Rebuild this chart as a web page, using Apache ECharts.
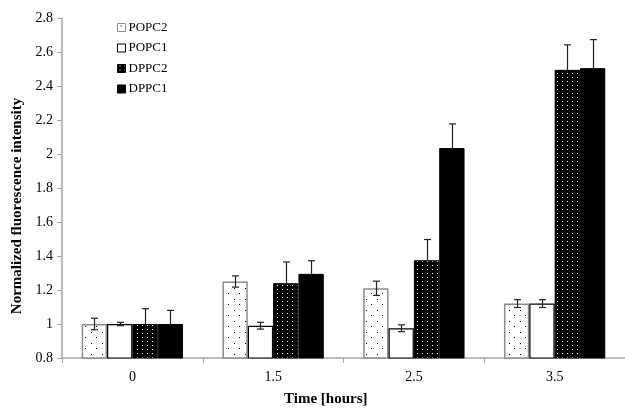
<!DOCTYPE html>
<html>
<head>
<meta charset="utf-8">
<script src="https://cdn.jsdelivr.net/npm/echarts@6/dist/echarts.min.js"></script>
<style>html,body{margin:0;padding:0;background:#fff}#c{width:625px;height:409px}</style>
</head>
<body>
<div id="c"></div>
<script>
const categories = ['0', '1.5', '2.5', '3.5'];
const seriesNames = ['POPC2', 'POPC1', 'DPPC2', 'DPPC1'];
const popc2 = [1.00, 1.25, 1.21, 1.12];
const popc2Err = [0.034, 0.033, 0.042, 0.023];
const popc1 = [1.00, 0.99, 0.975, 1.12];
const popc1Err = [0.01, 0.02, 0.02, 0.023];
const dppc2 = [1.00, 1.24, 1.375, 2.495];
const dppc2Err = [0.09, 0.125, 0.122, 0.147];
const dppc1 = [1.00, 1.295, 2.035, 2.505];
const dppc1Err = [0.08, 0.077, 0.142, 0.168];
const yTicks = { min: 0.8, max: 2.8, step: 0.2 };

function makePattern(bg, fg, w, h, dots) {
  const c = document.createElement('canvas');
  c.width = w; c.height = h;
  const g = c.getContext('2d');
  g.fillStyle = bg; g.fillRect(0, 0, w, h);
  g.fillStyle = fg;
  dots.forEach(d => g.fillRect(d[0], d[1], 1, 1));
  return { image: c, repeat: 'repeat' };
}
const patPOPC2 = makePattern('#ffffff', '#000000', 11, 11, [[3, 2], [8, 7]]);
const patDPPC2 = makePattern('#000000', '#ffffff', 5, 4, [[2, 1]]);

const valuesList = [popc2, popc1, dppc2, dppc1];
const errList = [popc2Err, popc1Err, dppc2Err, dppc1Err];
const styles = [
  { color: patPOPC2, borderColor: '#8c8c8c', borderWidth: 1.5 },
  { color: '#ffffff', borderColor: '#000000', borderWidth: 1.2 },
  { color: patDPPC2, borderColor: '#000000', borderWidth: 1 },
  { color: '#000000', borderColor: '#000000', borderWidth: 1 }
];
const catGap = 0.28;
const nBars = 4;

const series = [];
seriesNames.forEach((name, i) => {
  series.push({
    name: name, type: 'bar', data: valuesList[i],
    barGap: '0%', barCategoryGap: (catGap * 100) + '%',
    itemStyle: styles[i], z: 2
  });
});
seriesNames.forEach((name, i) => {
  const upperOnly = i >= 2;
  series.push({
    type: 'custom', name: name + '_err', z: 5, silent: true,
    data: valuesList[i].map((v, k) => [k, v, errList[i][k]]),
    encode: { x: 0, y: 1 },
    renderItem: function (params, api) {
      const k = api.value(0), v = api.value(1), e = api.value(2);
      const band = api.size([1, 0])[0];
      const bw = band * (1 - catGap) / nBars;
      const c = api.coord([k, v]);
      const x = Math.round(c[0] + (i - (nBars - 1) / 2) * bw) + 0.5;
      const yt = api.coord([k, v + e])[1];
      const yb = upperOnly ? c[1] : api.coord([k, v - e])[1];
      const cap = 3.5;
      const st = { stroke: '#222', lineWidth: 1.2 };
      const ch = [
        { type: 'line', shape: { x1: x, y1: yt, x2: x, y2: yb }, style: st },
        { type: 'line', shape: { x1: x - cap, y1: yt, x2: x + cap, y2: yt }, style: st }
      ];
      if (!upperOnly) ch.push({ type: 'line', shape: { x1: x - cap, y1: yb, x2: x + cap, y2: yb }, style: st });
      return { type: 'group', children: ch };
    }
  });
});

const chart = echarts.init(document.getElementById('c'), null, { renderer: 'canvas' });
chart.setOption({
  animation: false,
  backgroundColor: '#ffffff',
  textStyle: { fontFamily: 'Liberation Serif' },
  grid: { left: 62, top: 18, width: 565, height: 340, containLabel: false },
  legend: {
    data: seriesNames, orient: 'vertical', left: 112, top: 16,
    icon: 'rect', itemWidth: 8, itemHeight: 8, itemGap: 7.5,
    itemStyle: { borderWidth: 1 },
    textStyle: { fontFamily: 'Liberation Serif', fontSize: 13, color: '#000', padding: [0, 0, 0, -2] }
  },
  xAxis: {
    type: 'category', data: categories,
    axisLine: { lineStyle: { color: '#a6a6a6', width: 1.5 } },
    axisTick: { show: true, length: 5, lineStyle: { color: '#a6a6a6' } },
    axisLabel: { fontSize: 14, color: '#000', margin: 12, fontFamily: 'Liberation Serif' }
  },
  yAxis: {
    type: 'value', min: yTicks.min, max: yTicks.max, interval: yTicks.step,
    splitLine: { show: false },
    axisLine: { show: true, lineStyle: { color: '#a6a6a6', width: 1.5 } },
    axisTick: { show: true, length: 5, lineStyle: { color: '#a6a6a6' } },
    axisLabel: { fontSize: 14, color: '#000', margin: 9, fontFamily: 'Liberation Serif',
      formatter: v => String(Math.round(v * 10) / 10) }
  },
  graphic: [
    { type: 'text', left: 284, top: 392,
      style: { text: 'Time [hours]', font: 'bold 15px "Liberation Serif"', fill: '#000' } },
    { type: 'text', x: 17, y: 206, rotation: Math.PI / 2, originX: 0, originY: 0,
      style: { text: 'Normalized fluorescence intensity', font: 'bold 15px "Liberation Serif"', fill: '#000',
        align: 'center', verticalAlign: 'middle' } }
  ],
  series: series
});
</script>
</body>
</html>
